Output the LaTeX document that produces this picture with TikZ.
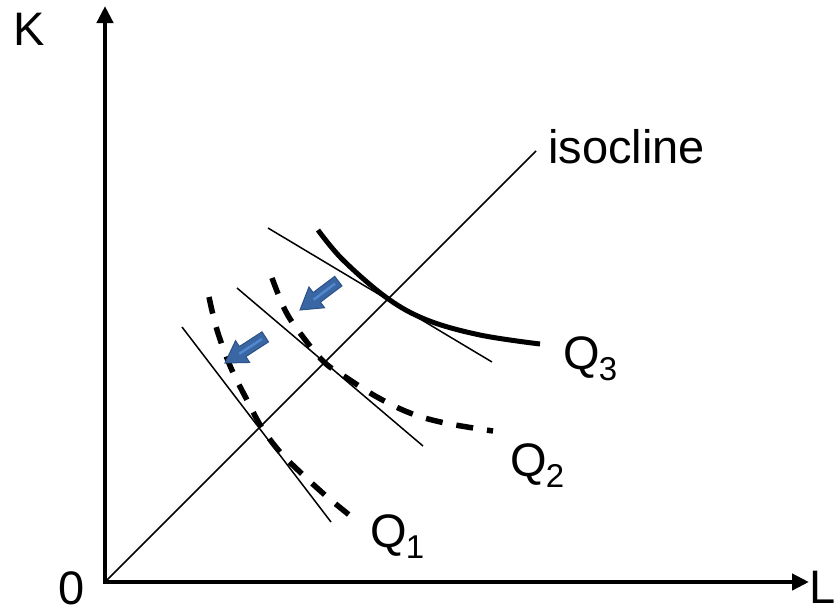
\documentclass[tikz,border=0pt]{standalone}
\usepackage{fontspec}
\setmainfont{Liberation Sans}
\usetikzlibrary{arrows.meta}
\definecolor{arrowfill}{RGB}{58,102,163}
\definecolor{arrowedge}{RGB}{44,82,134}
\definecolor{arrowhi}{RGB}{80,136,206}
\tikzset{
  axisline/.style={line width=4.6pt, line join=miter,
    {Triangle[length=17pt,width=16pt]}-{Triangle[length=17pt,width=16pt]}},
  thinline/.style={line width=1.5pt},
  qsolid/.style={line width=5pt},
  qdashed/.style={line width=5.5pt, dash pattern=on 17pt off 14pt},
  lbl/.style={inner sep=0pt, font=\fontsize{47}{56}\selectfont},
  blockarrow/.style={fill=arrowfill, draw=arrowedge, line width=1pt, line join=miter}
}
\newcommand{\qsub}[1]{Q\kern-1pt\raisebox{-11pt}{\fontsize{33}{40}\selectfont #1}}
\begin{document}
\begin{tikzpicture}[x=1pt,y=-1pt]
\useasboundingbox (0,0) rectangle (834,611);
% axes
\coordinate (O) at (105,582);
\coordinate (Ktip) at (105,6);
\coordinate (Ltip) at (809,582);
\draw[axisline] (Ktip) -- (O) -- (Ltip);
\node[lbl] (K) at (29,29.5) {K};
\node[lbl] (zero) at (71.5,588.5) {0};
\node[lbl, anchor=base west] (L) at (809,603) {L};
% isocline
\coordinate (isoend) at (536,151);
\draw[thinline] (O) -- (isoend);
\node[lbl, anchor=base west] (iso) at (548,163) {isocline};
% tangent lines
\coordinate (t1a) at (182,327); \coordinate (t1b) at (331,522);
\coordinate (t2a) at (237,288); \coordinate (t2b) at (423,446);
\coordinate (t3a) at (268,228); \coordinate (t3b) at (492,362);
\draw[thinline] (t1a) -- (t1b);
\draw[thinline] (t2a) -- (t2b);
\draw[thinline] (t3a) -- (t3b);
% isoquants
\draw[qsolid] plot[smooth, tension=0.6] coordinates {(318,230) (343,260) (387,298) (427,320) (480,335) (540,344)};
\draw[qdashed] plot[smooth, tension=0.6] coordinates {(272,278) (285,310) (300,333) (324,362) (347,378) (377,397) (410,413) (445,423) (493,431)};
\draw[qdashed] plot[smooth, tension=0.6] coordinates {(209,297) (217,330) (231,368) (247,400) (262,428) (280,452) (300,472) (325,495) (353,518)};
% labels
\node[lbl, anchor=base west] (Q3) at (563,369) {\qsub{3}};
\node[lbl, anchor=base west] (Q2) at (510,476) {\qsub{2}};
\node[lbl, anchor=base west] (Q1) at (370,547) {\qsub{1}};
% block arrows
\coordinate (a2tip) at (300,310);
\coordinate (a1tip) at (225,363);
\begin{scope}[shift={(a2tip)}, rotate=217]
  \draw[blockarrow] (0,0) -- (-21,13) -- (-21,6) -- (-48,6) -- (-48,-6) -- (-21,-6) -- (-21,-13) -- cycle;
  \draw[arrowhi, line width=2.5pt] (-44,0) -- (-17,0);
\end{scope}
\begin{scope}[shift={(a1tip)}, rotate=213]
  \draw[blockarrow] (0,0) -- (-21,13) -- (-21,6) -- (-48,6) -- (-48,-6) -- (-21,-6) -- (-21,-13) -- cycle;
  \draw[arrowhi, line width=2.5pt] (-44,0) -- (-17,0);
\end{scope}
\end{tikzpicture}
\end{document}
